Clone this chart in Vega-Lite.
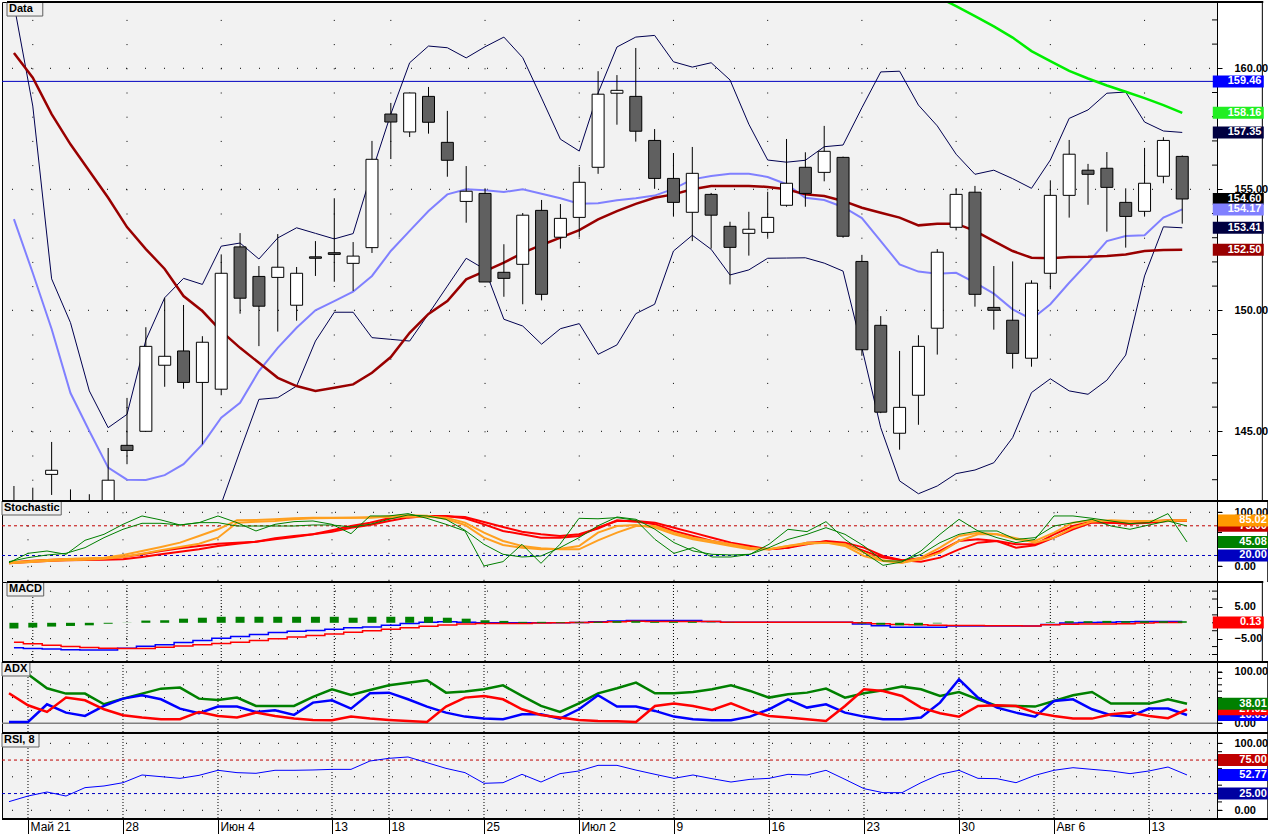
{
"$schema":"https://vega.github.io/schema/vega-lite/v6.json",
"padding":{"left":0,"top":0,"right":0,"bottom":0},
"background":"#ffffff",
"spacing":0,
"bounds":"flush",
"resolve":{"scale":{"color":"independent"}},
"config":{"font":"Liberation Sans","view":{"stroke":"#000","strokeWidth":1,"fill":"#f2f2f2"},
"axis":{"labelFont":"Liberation Sans","labelFontSize":11,"labelFontWeight":"bold","labelColor":"#000","tickColor":"#000","tickWidth":1,"domain":false,"grid":false,"labelOverlap":false,"labelFlush":false,"labelBound":false},
"legend":{"disable":true}},
"datasets":{
"dt":[{"i":0},{"i":5},{"i":10},{"i":16},{"i":19},{"i":24},{"i":29},{"i":34},{"i":39},{"i":44},{"i":49},{"i":54},{"i":59}],
"tk100":[{"v":0},{"v":12.5},{"v":25},{"v":37.5},{"v":50},{"v":62.5},{"v":75},{"v":87.5},{"v":100}],
"px":[
{"i":-1,"o":141.5,"h":142.74,"l":140.5,"c":141.0,"bu":162.65,"bm":153.77,"bl":136.0,"ma":160.63},
{"i":0,"o":141.6,"h":142.67,"l":140.8,"c":141.9,"bu":158.44,"bm":151.54,"bl":137.0,"ma":159.61},
{"i":1,"o":143.22,"h":144.56,"l":142.37,"c":143.39,"bu":151.3,"bm":149.23,"bl":137.5,"ma":158.11},
{"i":2,"o":141.7,"h":142.6,"l":140.9,"c":141.3,"bu":149.49,"bm":146.58,"bl":138.0,"ma":156.86},
{"i":3,"o":141.3,"h":142.4,"l":140.7,"c":141.9,"bu":146.67,"bm":145.01,"bl":138.5,"ma":155.76},
{"i":4,"o":141.6,"h":144.31,"l":141.2,"c":142.98,"bu":145.15,"bm":143.5,"bl":138.8,"ma":154.65},
{"i":5,"o":144.42,"h":146.38,"l":143.64,"c":144.21,"bu":145.7,"bm":143.0,"bl":139.0,"ma":153.44},
{"i":6,"o":145.0,"h":149.3,"l":145.0,"c":148.51,"bu":148.77,"bm":142.99,"bl":139.0,"ma":152.53},
{"i":7,"o":147.73,"h":150.52,"l":146.84,"c":148.1,"bu":150.52,"bm":143.19,"bl":139.5,"ma":151.71},
{"i":8,"o":148.32,"h":150.22,"l":146.76,"c":147.02,"bu":151.32,"bm":143.64,"bl":140.0,"ma":150.59},
{"i":9,"o":147.02,"h":148.93,"l":144.46,"c":148.68,"bu":151.07,"bm":144.46,"bl":140.5,"ma":149.97},
{"i":10,"o":146.74,"h":152.31,"l":146.49,"c":151.53,"bu":152.65,"bm":145.56,"bl":142.0,"ma":149.14},
{"i":11,"o":152.62,"h":153.19,"l":149.86,"c":150.5,"bu":152.78,"bm":146.18,"bl":144.19,"ma":148.45},
{"i":12,"o":151.4,"h":151.83,"l":148.52,"c":150.17,"bu":152.12,"bm":147.49,"bl":146.32,"ma":147.83},
{"i":13,"o":151.36,"h":153.15,"l":149.12,"c":151.78,"bu":152.99,"bm":148.45,"bl":146.39,"ma":147.21},
{"i":14,"o":150.21,"h":151.79,"l":149.57,"c":151.53,"bu":153.41,"bm":149.28,"bl":146.87,"ma":146.87},
{"i":15,"o":152.21,"h":152.86,"l":151.42,"c":152.15,"bu":153.18,"bm":150.0,"bl":148.73,"ma":146.67},
{"i":16,"o":152.38,"h":154.63,"l":151.18,"c":152.31,"bu":152.95,"bm":150.38,"bl":149.92,"ma":146.8},
{"i":17,"o":151.94,"h":152.82,"l":150.8,"c":152.24,"bu":153.17,"bm":150.77,"bl":149.92,"ma":146.94},
{"i":18,"o":152.59,"h":157.0,"l":152.37,"c":156.24,"bu":155.72,"bm":151.42,"bl":148.87,"ma":147.42},
{"i":19,"o":158.11,"h":158.57,"l":156.25,"c":157.78,"bu":158.11,"bm":152.45,"bl":148.8,"ma":148.07},
{"i":20,"o":157.37,"h":159.0,"l":157.16,"c":158.98,"bu":160.23,"bm":153.28,"bl":148.73,"ma":149.07},
{"i":21,"o":158.84,"h":159.23,"l":157.3,"c":157.77,"bu":160.92,"bm":154.1,"bl":149.85,"ma":149.85},
{"i":22,"o":156.94,"h":158.24,"l":155.52,"c":156.2,"bu":160.85,"bm":154.79,"bl":151.0,"ma":150.38},
{"i":23,"o":154.5,"h":155.96,"l":153.62,"c":154.92,"bu":160.43,"bm":155.0,"bl":152.15,"ma":151.28},
{"i":24,"o":154.83,"h":155.04,"l":151.17,"c":151.17,"bu":160.89,"bm":154.96,"bl":151.69,"ma":151.62},
{"i":25,"o":151.57,"h":152.73,"l":150.56,"c":151.32,"bu":161.29,"bm":154.89,"bl":149.63,"ma":151.97},
{"i":26,"o":151.9,"h":154.02,"l":150.25,"c":153.93,"bu":160.44,"bm":155.0,"bl":149.35,"ma":152.37},
{"i":27,"o":154.13,"h":154.56,"l":150.41,"c":150.66,"bu":158.77,"bm":154.82,"bl":148.6,"ma":152.7},
{"i":28,"o":153.02,"h":154.39,"l":152.55,"c":153.8,"bu":157.07,"bm":154.63,"bl":149.24,"ma":153.0},
{"i":29,"o":153.84,"h":155.92,"l":153.02,"c":155.29,"bu":156.58,"bm":154.4,"bl":149.45,"ma":153.31},
{"i":30,"o":155.91,"h":159.88,"l":155.64,"c":158.93,"bu":158.98,"bm":154.42,"bl":148.18,"ma":153.76},
{"i":31,"o":158.97,"h":159.72,"l":157.67,"c":159.09,"bu":160.88,"bm":154.55,"bl":148.57,"ma":154.1},
{"i":32,"o":158.84,"h":160.84,"l":156.97,"c":157.4,"bu":161.29,"bm":154.63,"bl":149.86,"ma":154.4},
{"i":33,"o":157.02,"h":157.49,"l":155.02,"c":155.45,"bu":161.36,"bm":154.74,"bl":150.25,"ma":154.65},
{"i":34,"o":155.45,"h":156.5,"l":153.87,"c":154.46,"bu":160.27,"bm":155.02,"bl":152.45,"ma":154.79},
{"i":35,"o":154.05,"h":156.75,"l":152.86,"c":155.66,"bu":160.05,"bm":155.41,"bl":153.1,"ma":155.0},
{"i":36,"o":154.79,"h":154.85,"l":152.55,"c":153.93,"bu":160.23,"bm":155.55,"bl":152.52,"ma":155.14},
{"i":37,"o":153.47,"h":153.66,"l":151.07,"c":152.6,"bu":159.52,"bm":155.64,"bl":151.46,"ma":155.14},
{"i":38,"o":153.18,"h":154.07,"l":152.26,"c":153.35,"bu":157.69,"bm":155.64,"bl":151.67,"ma":155.14},
{"i":39,"o":153.22,"h":154.9,"l":153.0,"c":153.84,"bu":156.21,"bm":155.51,"bl":152.15,"ma":155.1},
{"i":40,"o":154.34,"h":157.08,"l":154.28,"c":155.25,"bu":156.12,"bm":155.21,"bl":152.16,"ma":155.0},
{"i":41,"o":155.91,"h":156.53,"l":154.28,"c":154.83,"bu":156.2,"bm":154.65,"bl":152.17,"ma":154.79},
{"i":42,"o":155.7,"h":157.62,"l":155.33,"c":156.57,"bu":156.76,"bm":154.56,"bl":151.95,"ma":154.72},
{"i":43,"o":156.32,"h":156.35,"l":153.0,"c":153.06,"bu":156.83,"bm":154.27,"bl":151.62,"ma":154.52},
{"i":44,"o":152.02,"h":152.29,"l":148.12,"c":148.37,"bu":158.37,"bm":153.81,"bl":148.45,"ma":154.24},
{"i":45,"o":149.38,"h":149.76,"l":145.75,"c":145.79,"bu":159.85,"bm":152.86,"bl":145.15,"ma":154.03},
{"i":46,"o":144.92,"h":148.32,"l":144.24,"c":145.99,"bu":159.88,"bm":151.9,"bl":142.95,"ma":153.83},
{"i":47,"o":146.49,"h":148.97,"l":145.27,"c":148.51,"bu":158.48,"bm":151.6,"bl":142.42,"ma":153.51},
{"i":48,"o":149.26,"h":152.53,"l":148.17,"c":152.4,"bu":157.62,"bm":151.51,"bl":142.74,"ma":153.58},
{"i":49,"o":153.43,"h":155.05,"l":153.3,"c":154.79,"bu":156.45,"bm":151.55,"bl":143.25,"ma":153.58},
{"i":50,"o":154.88,"h":155.14,"l":150.15,"c":150.66,"bu":155.62,"bm":151.14,"bl":143.4,"ma":153.28},
{"i":51,"o":150.12,"h":151.83,"l":149.2,"c":150.0,"bu":155.79,"bm":150.69,"bl":143.7,"ma":152.86},
{"i":52,"o":149.59,"h":152.02,"l":147.59,"c":148.22,"bu":155.44,"bm":150.04,"bl":144.74,"ma":152.45},
{"i":53,"o":148.02,"h":151.24,"l":147.67,"c":151.12,"bu":155.04,"bm":149.63,"bl":146.6,"ma":152.17},
{"i":54,"o":151.53,"h":155.37,"l":150.87,"c":154.75,"bu":156.21,"bm":150.25,"bl":147.17,"ma":152.15},
{"i":55,"o":154.75,"h":157.04,"l":153.83,"c":156.45,"bu":157.93,"bm":151.14,"bl":146.67,"ma":152.2},
{"i":56,"o":155.79,"h":156.05,"l":154.36,"c":155.62,"bu":158.28,"bm":151.97,"bl":146.53,"ma":152.21},
{"i":57,"o":155.87,"h":156.54,"l":153.25,"c":155.08,"bu":158.97,"bm":152.86,"bl":147.11,"ma":152.24},
{"i":58,"o":154.46,"h":155.04,"l":152.59,"c":153.88,"bu":159.02,"bm":153.07,"bl":148.15,"ma":152.31},
{"i":59,"o":154.09,"h":156.71,"l":153.87,"c":155.25,"bu":157.78,"bm":153.1,"bl":151.42,"ma":152.45},
{"i":60,"o":155.54,"h":157.15,"l":155.25,"c":157.02,"bu":157.41,"bm":153.83,"bl":153.45,"ma":152.49},
{"i":61,"o":156.36,"h":156.4,"l":153.58,"c":154.6,"bu":157.35,"bm":154.17,"bl":153.41,"ma":152.5}
],
"ma2":[{"i":48,"v":162.96},{"i":49,"v":162.57},{"i":50,"v":162.16},{"i":51,"v":161.73},{"i":52,"v":161.27},{"i":53,"v":160.71},{"i":54,"v":160.3},{"i":55,"v":159.89},{"i":56,"v":159.58},{"i":57,"v":159.29},{"i":58,"v":159.03},{"i":59,"v":158.77},{"i":60,"v":158.48},{"i":61,"v":158.16}],
"st":[
{"i":-1,"ga":6.7,"gb":8.6,"ra":6.7,"rb":5.5,"oa":7.4,"ob":5.5},
{"i":0,"ga":24.0,"gb":16.0,"ra":9.8,"rb":8.0,"oa":9.2,"ob":7.4},
{"i":1,"ga":28.3,"gb":20.9,"ra":11.7,"rb":9.8,"oa":11.7,"ob":9.8},
{"i":2,"ga":22.2,"gb":24.0,"ra":12.9,"rb":11.0,"oa":13.5,"ob":11.0},
{"i":3,"ga":48.1,"gb":34.5,"ra":13.5,"rb":11.7,"oa":14.7,"ob":12.3},
{"i":4,"ga":59.2,"gb":53.0,"ra":14.1,"rb":12.3,"oa":16.0,"ob":14.1},
{"i":5,"ga":77.7,"gb":68.5,"ra":17.2,"rb":12.9,"oa":20.9,"ob":17.2},
{"i":6,"ga":93.2,"gb":79.6,"ra":22.2,"rb":17.2,"oa":28.3,"ob":23.4},
{"i":7,"ga":85.8,"gb":79.6,"ra":28.3,"rb":22.2,"oa":35.8,"ob":29.6},
{"i":8,"ga":76.5,"gb":76.5,"ra":33.3,"rb":27.1,"oa":43.8,"ob":35.8},
{"i":9,"ga":80.8,"gb":80.8,"ra":37.6,"rb":31.4,"oa":56.1,"ob":41.9},
{"i":10,"ga":93.2,"gb":80.8,"ra":41.9,"rb":37.6,"oa":68.5,"ob":53.0},
{"i":11,"ga":80.8,"gb":74.6,"ra":43.8,"rb":41.9,"oa":85.1,"ob":80.8},
{"i":12,"ga":65.4,"gb":74.6,"ra":45.6,"rb":45.6,"oa":85.8,"ob":82.7},
{"i":13,"ga":77.7,"gb":74.6,"ra":51.8,"rb":49.9,"oa":87.0,"ob":83.9},
{"i":14,"ga":82.7,"gb":74.6,"ra":56.1,"rb":54.3,"oa":88.8,"ob":87.0},
{"i":15,"ga":83.9,"gb":76.5,"ra":59.2,"rb":59.2,"oa":90.1,"ob":88.8},
{"i":16,"ga":77.7,"gb":76.5,"ra":66.6,"rb":64.1,"oa":90.1,"ob":89.5},
{"i":17,"ga":60.4,"gb":72.8,"ra":74.6,"rb":71.5,"oa":90.1,"ob":90.1},
{"i":18,"ga":93.2,"gb":77.7,"ra":80.8,"rb":76.5,"oa":90.1,"ob":90.7},
{"i":19,"ga":93.2,"gb":87.0,"ra":88.8,"rb":83.9,"oa":92.5,"ob":91.3},
{"i":20,"ga":97.5,"gb":95.0,"ra":93.2,"rb":90.1,"oa":94.4,"ob":91.9},
{"i":21,"ga":88.8,"gb":93.2,"ra":93.2,"rb":93.2,"oa":93.8,"ob":91.9},
{"i":22,"ga":77.7,"gb":87.0,"ra":92.5,"rb":93.2,"oa":87.6,"ob":90.1},
{"i":23,"ga":65.4,"gb":66.6,"ra":91.3,"rb":88.8,"oa":76.5,"ob":80.8},
{"i":24,"ga":0.6,"gb":40.7,"ra":82.0,"rb":77.7,"oa":53.0,"ob":62.3},
{"i":25,"ga":8.6,"gb":22.2,"ra":72.8,"rb":65.4,"oa":39.5,"ob":46.9},
{"i":26,"ga":40.7,"gb":17.2,"ra":64.1,"rb":59.2,"oa":34.5,"ob":37.6},
{"i":27,"ga":5.5,"gb":19.1,"ra":59.2,"rb":53.0,"oa":31.4,"ob":33.3},
{"i":28,"ga":40.7,"gb":34.5,"ra":56.1,"rb":53.0,"oa":32.7,"ob":31.4},
{"i":29,"ga":88.8,"gb":53.0,"ra":59.2,"rb":56.1,"oa":37.6,"ob":31.4},
{"i":30,"ga":88.0,"gb":75.0,"ra":70.0,"rb":72.0,"oa":62.3,"ob":48.1},
{"i":31,"ga":90.1,"gb":91.3,"ra":85.1,"rb":83.9,"oa":74.6,"ob":62.3},
{"i":32,"ga":85.1,"gb":87.0,"ra":82.7,"rb":83.9,"oa":76.5,"ob":74.6},
{"i":33,"ga":49.8,"gb":68.5,"ra":77.7,"rb":80.8,"oa":71.5,"ob":74.6},
{"i":34,"ga":24.0,"gb":43.8,"ra":65.4,"rb":71.5,"oa":59.2,"ob":62.3},
{"i":35,"ga":34.5,"gb":28.4,"ra":56.1,"rb":62.3,"oa":49.9,"ob":53.0},
{"i":36,"ga":17.2,"gb":22.2,"ra":46.9,"rb":53.0,"oa":43.8,"ob":46.9},
{"i":37,"ga":17.2,"gb":21.0,"ra":40.7,"rb":43.8,"oa":37.6,"ob":40.7},
{"i":38,"ga":22.2,"gb":22.2,"ra":34.5,"rb":37.6,"oa":31.4,"ob":34.5},
{"i":39,"ga":40.7,"gb":34.5,"ra":31.4,"rb":31.4,"oa":31.4,"ob":31.4},
{"i":40,"ga":68.5,"gb":49.8,"ra":34.5,"rb":34.5,"oa":37.6,"ob":37.6},
{"i":41,"ga":64.2,"gb":59.2,"ra":40.7,"rb":43.8,"oa":43.8,"ob":41.9},
{"i":42,"ga":82.7,"gb":71.5,"ra":46.9,"rb":45.6,"oa":43.8,"ob":43.8},
{"i":43,"ga":49.8,"gb":59.2,"ra":43.8,"rb":40.7,"oa":37.6,"ob":40.7},
{"i":44,"ga":25.3,"gb":37.6,"ra":34.5,"rb":28.3,"oa":19.1,"ob":25.2},
{"i":45,"ga":1.8,"gb":9.8,"ra":19.1,"rb":16.0,"oa":9.8,"ob":11.0},
{"i":46,"ga":8.0,"gb":9.8,"ra":11.0,"rb":11.0,"oa":6.7,"ob":6.7},
{"i":47,"ga":28.4,"gb":22.2,"ra":14.7,"rb":8.6,"oa":16.0,"ob":12.9},
{"i":48,"ga":59.2,"gb":43.8,"ra":28.3,"rb":16.0,"oa":34.5,"ob":25.2},
{"i":49,"ga":87.0,"gb":59.2,"ra":46.9,"rb":31.4,"oa":56.1,"ob":46.9},
{"i":50,"ga":65.4,"gb":65.4,"ra":49.9,"rb":43.8,"oa":62.3,"ob":59.2},
{"i":51,"ga":53.0,"gb":65.4,"ra":46.9,"rb":46.9,"oa":59.2,"ob":59.2},
{"i":52,"ga":43.8,"gb":49.8,"ra":34.5,"rb":40.7,"oa":49.9,"ob":51.8},
{"i":53,"ga":49.8,"gb":53.0,"ra":38.8,"rb":40.7,"oa":46.9,"ob":43.8},
{"i":54,"ga":93.2,"gb":74.6,"ra":53.0,"rb":59.2,"oa":62.3,"ob":53.0},
{"i":55,"ga":93.2,"gb":80.8,"ra":68.5,"rb":74.6,"oa":80.8,"ob":71.5},
{"i":56,"ga":88.9,"gb":87.0,"ra":80.8,"rb":82.7,"oa":85.1,"ob":82.7},
{"i":57,"ga":83.9,"gb":74.6,"ra":80.8,"rb":80.8,"oa":83.9,"ob":85.1},
{"i":58,"ga":79.0,"gb":68.5,"ra":79.0,"rb":79.0,"oa":82.7,"ob":83.9},
{"i":59,"ga":80.8,"gb":76.5,"ra":80.8,"rb":82.7,"oa":83.9,"ob":83.9},
{"i":60,"ga":97.5,"gb":83.9,"ra":83.9,"rb":85.1,"oa":83.9,"ob":85.1},
{"i":61,"ga":45.1,"gb":74.6,"ra":83.9,"rb":85.1,"oa":85.0,"ob":85.1}
],
"md":[
{"i":-1,"m":-7.9,"s":-6.1,"h":-1.8},{"i":0,"m":-8.1,"s":-6.6,"h":-1.5},{"i":1,"m":-8.3,"s":-7.1,"h":-1.2},{"i":2,"m":-8.5,"s":-7.5,"h":-1.0},
{"i":3,"m":-8.6,"s":-7.8,"h":-0.8},{"i":4,"m":-8.6,"s":-8.0,"h":-0.3},{"i":5,"m":-8.0,"s":-8.1,"h":0.05},{"i":6,"m":-7.4,"s":-8.1,"h":0.7},
{"i":7,"m":-6.9,"s":-7.7,"h":0.8},{"i":8,"m":-6.2,"s":-7.3,"h":1.3},{"i":9,"m":-5.6,"s":-6.9,"h":1.6},{"i":10,"m":-4.9,"s":-6.5,"h":1.9},
{"i":11,"m":-4.3,"s":-6.1,"h":1.9},{"i":12,"m":-3.7,"s":-5.6,"h":1.9},{"i":13,"m":-3.1,"s":-5.0,"h":1.9},{"i":14,"m":-2.7,"s":-4.5,"h":1.9},
{"i":15,"m":-2.4,"s":-4.0,"h":1.9},{"i":16,"m":-2.0,"s":-3.5,"h":1.9},{"i":17,"m":-1.6,"s":-3.0,"h":1.6},{"i":18,"m":-1.3,"s":-2.5,"h":1.9},
{"i":19,"m":-0.8,"s":-2.0,"h":1.9},{"i":20,"m":-0.2,"s":-1.6,"h":1.9},{"i":21,"m":0.2,"s":-1.1,"h":1.9},{"i":22,"m":0.3,"s":-0.7,"h":1.6},
{"i":23,"m":0.2,"s":-0.4,"h":1.3},{"i":24,"m":0.0,"s":-0.2,"h":0.8},{"i":25,"m":0.0,"s":-0.2,"h":0.6},{"i":26,"m":0.0,"s":-0.2,"h":0.3},
{"i":27,"m":0.0,"s":-0.1,"h":0.3},{"i":28,"m":0.0,"s":0.0,"h":0.2},{"i":29,"m":0.1,"s":0.1,"h":0.2},{"i":30,"m":0.3,"s":0.2,"h":0.3},
{"i":31,"m":0.6,"s":0.3,"h":0.5},{"i":32,"m":0.74,"s":0.5,"h":0.5},{"i":33,"m":0.74,"s":0.4,"h":0.3},{"i":34,"m":0.74,"s":0.4,"h":0.3},
{"i":35,"m":0.74,"s":0.4,"h":0.3},{"i":36,"m":0.4,"s":0.4,"h":0.1},{"i":37,"m":0.2,"s":0.2,"h":0.05},{"i":38,"m":0.2,"s":0.2,"h":0.0},
{"i":39,"m":0.2,"s":0.2,"h":0.0},{"i":40,"m":0.2,"s":0.2,"h":0.0},{"i":41,"m":0.2,"s":0.2,"h":0.0},{"i":42,"m":0.2,"s":0.2,"h":0.0},
{"i":43,"m":0.2,"s":0.2,"h":0.0},{"i":44,"m":-0.42,"s":0.0,"h":-0.2},{"i":45,"m":-0.95,"s":-0.3,"h":-0.6},{"i":46,"m":-1.37,"s":-0.5,"h":-0.8},
{"i":47,"m":-1.37,"s":-0.6,"h":-0.8},{"i":48,"m":-1.37,"s":-0.75,"h":-0.2},{"i":49,"m":-1.05,"s":-0.85,"h":0.0},{"i":50,"m":-1.05,"s":-0.85,"h":0.0},
{"i":51,"m":-1.05,"s":-0.9,"h":0.0},{"i":52,"m":-1.05,"s":-0.95,"h":0.0},{"i":53,"m":-1.05,"s":-1.05,"h":0.0},{"i":54,"m":-0.53,"s":-0.6,"h":0.2},
{"i":55,"m":-0.1,"s":-0.45,"h":0.5},{"i":56,"m":0.1,"s":-0.4,"h":0.5},{"i":57,"m":0.2,"s":-0.4,"h":0.6},{"i":58,"m":0.3,"s":-0.3,"h":0.5},
{"i":59,"m":0.42,"s":-0.1,"h":0.5},{"i":60,"m":0.42,"s":0.1,"h":0.5},{"i":61,"m":0.42,"s":0.13,"h":0.5}
],
"ad":[
{"i":-1,"a":95.5,"p":2.5,"n":58.4},{"i":0,"a":95.5,"p":2.5,"n":35.0},{"i":1,"a":68.2,"p":37.0,"n":22.0},{"i":2,"a":57.8,"p":20.7,"n":50.0},
{"i":3,"a":57.8,"p":14.2,"n":44.8},{"i":4,"a":37.0,"p":33.7,"n":27.2},{"i":5,"a":48.0,"p":48.0,"n":15.5},{"i":6,"a":57.8,"p":54.5,"n":11.0},
{"i":7,"a":67.5,"p":46.7,"n":7.7},{"i":8,"a":69.5,"p":28.5,"n":7.7},{"i":9,"a":48.0,"p":19.4,"n":22.0},{"i":10,"a":45.4,"p":32.4,"n":14.2},
{"i":11,"a":50.0,"p":32.4,"n":11.0},{"i":12,"a":33.7,"p":22.0,"n":20.7},{"i":13,"a":33.7,"p":25.3,"n":14.2},{"i":14,"a":33.7,"p":16.2,"n":9.0},
{"i":15,"a":51.3,"p":40.2,"n":6.4},{"i":16,"a":66.2,"p":44.8,"n":5.8},{"i":17,"a":55.2,"p":28.5,"n":12.9},{"i":18,"a":64.9,"p":58.4,"n":9.0},
{"i":19,"a":74.0,"p":59.7,"n":6.4},{"i":20,"a":79.2,"p":46.7,"n":4.5},{"i":21,"a":83.8,"p":32.4,"n":2.5},{"i":22,"a":59.7,"p":20.7,"n":32.4},
{"i":23,"a":61.7,"p":12.9,"n":50.0},{"i":24,"a":66.2,"p":9.0,"n":53.2},{"i":25,"a":74.0,"p":7.7,"n":46.7},{"i":26,"a":53.2,"p":17.5,"n":27.2},
{"i":27,"a":33.7,"p":17.5,"n":16.2},{"i":28,"a":22.0,"p":9.0,"n":11.0},{"i":29,"a":38.9,"p":27.2,"n":6.4},{"i":30,"a":58.4,"p":54.5,"n":4.5},
{"i":31,"a":68.2,"p":32.4,"n":3.8},{"i":32,"a":79.2,"p":32.4,"n":2.5},{"i":33,"a":58.4,"p":24.0,"n":33.7},{"i":34,"a":58.4,"p":12.9,"n":38.3},
{"i":35,"a":61.0,"p":7.7,"n":33.7},{"i":36,"a":66.2,"p":5.8,"n":25.9},{"i":37,"a":74.0,"p":5.8,"n":38.9},{"i":38,"a":63.0,"p":12.9,"n":24.0},
{"i":39,"a":50.0,"p":27.2,"n":14.2},{"i":40,"a":56.5,"p":46.7,"n":11.0},{"i":41,"a":59.7,"p":30.5,"n":7.7},{"i":42,"a":67.5,"p":37.0,"n":4.5},
{"i":43,"a":50.0,"p":20.7,"n":33.7},{"i":44,"a":58.4,"p":12.9,"n":66.2},{"i":45,"a":64.3,"p":7.7,"n":63.0},{"i":46,"a":71.4,"p":7.7,"n":53.2},
{"i":47,"a":66.2,"p":11.0,"n":30.5},{"i":48,"a":53.2,"p":40.2,"n":19.4},{"i":49,"a":61.0,"p":85.7,"n":12.9},{"i":50,"a":46.7,"p":50.0,"n":33.7},
{"i":51,"a":33.7,"p":30.5,"n":35.0},{"i":52,"a":33.7,"p":20.7,"n":33.7},{"i":53,"a":32.4,"p":12.9,"n":20.7},{"i":54,"a":43.5,"p":43.5,"n":14.2},
{"i":55,"a":54.5,"p":46.7,"n":9.0},{"i":56,"a":61.0,"p":27.2,"n":9.0},{"i":57,"a":38.3,"p":15.5,"n":17.5},{"i":58,"a":38.3,"p":12.9,"n":20.7},
{"i":59,"a":38.3,"p":28.5,"n":14.2},{"i":60,"a":46.7,"p":28.5,"n":9.7},{"i":61,"a":38.0,"p":16.0,"n":27.0}
],
"rs":[
{"i":-1,"r":12.9},{"i":0,"r":21.3},{"i":1,"r":27.3},{"i":2,"r":21.3},{"i":3,"r":33.8},{"i":4,"r":36.3},{"i":5,"r":41.2},{"i":6,"r":52.7},
{"i":7,"r":50.2},{"i":8,"r":47.7},{"i":9,"r":52.2},{"i":10,"r":59.7},{"i":11,"r":56.2},{"i":12,"r":55.2},{"i":13,"r":59.7},{"i":14,"r":59.7},
{"i":15,"r":60.2},{"i":16,"r":61.1},{"i":17,"r":61.1},{"i":18,"r":73.6},{"i":19,"r":77.6},{"i":20,"r":79.6},{"i":21,"r":71.1},{"i":22,"r":62.6},
{"i":23,"r":56.2},{"i":24,"r":40.3},{"i":25,"r":41.2},{"i":26,"r":53.7},{"i":27,"r":42.2},{"i":28,"r":54.7},{"i":29,"r":58.7},{"i":30,"r":67.1},
{"i":31,"r":67.1},{"i":32,"r":60.0},{"i":33,"r":53.7},{"i":34,"r":47.7},{"i":35,"r":52.7},{"i":36,"r":47.2},{"i":37,"r":42.2},{"i":38,"r":46.2},
{"i":39,"r":47.7},{"i":40,"r":53.7},{"i":41,"r":52.7},{"i":42,"r":59.7},{"i":43,"r":46.2},{"i":44,"r":32.3},{"i":45,"r":26.3},{"i":46,"r":26.3},
{"i":47,"r":41.2},{"i":48,"r":53.7},{"i":49,"r":59.7},{"i":50,"r":47.7},{"i":51,"r":47.2},{"i":52,"r":41.2},{"i":53,"r":52.2},{"i":54,"r":59.7},
{"i":55,"r":63.6},{"i":56,"r":61.1},{"i":57,"r":58.7},{"i":58,"r":54.7},{"i":59,"r":58.7},{"i":60,"r":64.6},{"i":61,"r":52.77}
]
},
"vconcat":[
{"width":1215,"height":499,
"layer":[
{"data":{"values":[{"v":145},{"v":150},{"v":155},{"v":160}]},"mark":{"type":"rule","color":"#000","strokeDash":[1,18],"strokeDashOffset":12},
 "encoding":{"y":{"field":"v","type":"quantitative","scale":{"domain":[142.12,162.74],"nice":false,"zero":false},
  "axis":{"orient":"right","title":null,"values":[145,150,155,160],"format":".2f","tickSize":5,"labelPadding":12,"labelOverlap":false}}}},
{"data":{"name":"dt"},"mark":{"type":"rule","color":"#000","strokeDash":[1,23.2],"strokeDashOffset":6.3},
 "encoding":{"x":{"field":"i","type":"quantitative","scale":{"domain":[-1.3684,62.579],"nice":false,"zero":false},"axis":null}}},
{"data":{"values":[{"v":143},{"v":144},{"v":146},{"v":147},{"v":148},{"v":149},{"v":151},{"v":152},{"v":153},{"v":154},{"v":156},{"v":157},{"v":158},{"v":159},{"v":161},{"v":162}]},
 "mark":{"type":"tick","orient":"horizontal","size":5,"thickness":1,"color":"#000","opacity":1,"clip":false},
 "encoding":{"x":{"datum":62.711,"axis":null},"y":{"field":"v","type":"quantitative"}}},
{"data":{"values":[{}]},"mark":{"type":"rule","color":"#0000c0","strokeWidth":1},"encoding":{"y":{"datum":159.46}}},
{"data":{"name":"px"},"mark":{"type":"line","color":"#000050","strokeWidth":1,"clip":true},"encoding":{"x":{"field":"i","type":"quantitative","axis":null},"y":{"field":"bu","type":"quantitative"}}},
{"data":{"name":"px"},"mark":{"type":"line","color":"#000050","strokeWidth":1,"clip":true},"encoding":{"x":{"field":"i","type":"quantitative","axis":null},"y":{"field":"bl","type":"quantitative"}}},
{"data":{"name":"px"},"mark":{"type":"line","color":"#8080ff","strokeWidth":2,"clip":true},"encoding":{"x":{"field":"i","type":"quantitative","axis":null},"y":{"field":"bm","type":"quantitative"}}},
{"data":{"name":"px"},"mark":{"type":"line","color":"#990000","strokeWidth":2.5,"clip":true},"encoding":{"x":{"field":"i","type":"quantitative","axis":null},"y":{"field":"ma","type":"quantitative"}}},
{"data":{"name":"ma2"},"mark":{"type":"line","color":"#00ee00","strokeWidth":2.5,"clip":true},"encoding":{"x":{"field":"i","type":"quantitative","axis":null},"y":{"field":"v","type":"quantitative"}}},
{"data":{"name":"px"},"mark":{"type":"rule","color":"#000","strokeWidth":1,"clip":true},"encoding":{"x":{"field":"i","type":"quantitative","axis":null},"y":{"field":"l","type":"quantitative"},"y2":{"field":"h"}}},
{"data":{"name":"px"},"mark":{"type":"bar","size":12,"stroke":"#000","strokeWidth":1,"clip":true},"encoding":{"x":{"field":"i","type":"quantitative","axis":null},"y":{"field":"o","type":"quantitative"},"y2":{"field":"c"},
 "fill":{"condition":{"test":"datum.c >= datum.o","value":"#ffffff"},"value":"#606060"}}},
{"data":{"values":[{}]},"mark":{"type":"rect","fill":"#f0f0f0","stroke":"#606060","strokeWidth":1},"encoding":{"x":{"datum":-1.3684},"x2":{"datum":0.53},"y":{"datum":162.74},"y2":{"datum":162.16}}},
{"data":{"values":[{}]},"mark":{"type":"text","text":"Data","align":"left","baseline":"top","dx":2,"dy":1,"font":"Liberation Sans","fontWeight":"bold","fontSize":11,"color":"#000"},"encoding":{"x":{"datum":-1.3684},"y":{"datum":162.74}}},
{"data":{"values":[{}]},"mark":{"type":"rule","color":"#000","strokeWidth":2,"clip":false},"encoding":{"x":{"datum":-1.3684},"x2":{"datum":65.3},"y":{"datum":162.74}}},
{"data":{"values":[{}]},"mark":{"type":"rule","color":"#000","strokeWidth":1,"clip":false},"encoding":{"x":{"datum":65.25}}},
{"data":{"values":[{"v":159.46,"t":"159.46","k":"hl"},{"v":158.16,"t":"158.16","k":"ma2"},{"v":157.35,"t":"157.35","k":"bu"},{"v":154.6,"t":"154.60","k":"cl"},{"v":154.17,"t":"154.17","k":"bm"},{"v":153.41,"t":"153.41","k":"bl"},{"v":152.5,"t":"152.50","k":"ma"}]},
 "mark":{"type":"tick","orient":"horizontal","size":51,"thickness":12,"opacity":1,"clip":false},
 "encoding":{"x":{"datum":63.974},"y":{"field":"v","type":"quantitative"},"color":{"field":"k","type":"nominal","scale":{"domain":["hl","ma2","bu","cl","bm","bl","ma"],"range":["#0000ff","#22ee22","#000040","#000000","#8080ff","#000040","#990000"]},"legend":null}}},
{"data":{"values":[{"v":159.46,"t":"159.46"},{"v":158.16,"t":"158.16"},{"v":157.35,"t":"157.35"},{"v":154.6,"t":"154.60"},{"v":154.17,"t":"154.17"},{"v":153.41,"t":"153.41"},{"v":152.5,"t":"152.50"}]},
 "mark":{"type":"text","align":"right","baseline":"middle","font":"Liberation Sans","fontWeight":"bold","fontSize":11,"color":"#ffffff","clip":false},
 "encoding":{"x":{"datum":65.2},"y":{"field":"v","type":"quantitative"},"text":{"field":"t"}}}
]},
{"width":1215,"height":81,
"layer":[
{"data":{"values":[{"v":0},{"v":100}]},"mark":{"type":"rule","color":"#000","strokeDash":[1,18],"strokeDashOffset":12},
 "encoding":{"y":{"field":"v","type":"quantitative","scale":{"domain":[-29.1,120.9],"nice":false,"zero":false},
  "axis":{"orient":"right","title":null,"values":[0,100],"format":".2f","tickSize":5,"labelPadding":12,"labelOverlap":false}}}},
{"data":{"name":"dt"},"mark":{"type":"rule","color":"#000","strokeDash":[1,12.5],"strokeDashOffset":2.2},
 "encoding":{"x":{"field":"i","type":"quantitative","scale":{"domain":[-1.3684,62.579],"nice":false,"zero":false},"axis":null}}},
{"data":{"name":"tk100"},"mark":{"type":"tick","orient":"horizontal","size":5,"thickness":1,"color":"#000","opacity":1,"clip":false},
 "encoding":{"x":{"datum":62.711,"axis":null},"y":{"field":"v","type":"quantitative"}}},
{"data":{"values":[{}]},"mark":{"type":"rule","color":"#c00000","strokeDash":[3,3]},"encoding":{"y":{"datum":75}}},
{"data":{"values":[{}]},"mark":{"type":"rule","color":"#0000c0","strokeDash":[3,3]},"encoding":{"y":{"datum":20}}},
{"data":{"name":"st"},"mark":{"type":"line","color":"#ff0000","strokeWidth":2,"clip":true},"encoding":{"x":{"field":"i","type":"quantitative","axis":null},"y":{"field":"ra","type":"quantitative"}}},
{"data":{"name":"st"},"mark":{"type":"line","color":"#ff0000","strokeWidth":2,"clip":true},"encoding":{"x":{"field":"i","type":"quantitative","axis":null},"y":{"field":"rb","type":"quantitative"}}},
{"data":{"name":"st"},"mark":{"type":"line","color":"#ffa020","strokeWidth":2,"clip":true},"encoding":{"x":{"field":"i","type":"quantitative","axis":null},"y":{"field":"oa","type":"quantitative"}}},
{"data":{"name":"st"},"mark":{"type":"line","color":"#ffa020","strokeWidth":2,"clip":true},"encoding":{"x":{"field":"i","type":"quantitative","axis":null},"y":{"field":"ob","type":"quantitative"}}},
{"data":{"name":"st"},"mark":{"type":"line","color":"#008000","strokeWidth":1,"clip":true},"encoding":{"x":{"field":"i","type":"quantitative","axis":null},"y":{"field":"ga","type":"quantitative"}}},
{"data":{"name":"st"},"mark":{"type":"line","color":"#008000","strokeWidth":1,"clip":true},"encoding":{"x":{"field":"i","type":"quantitative","axis":null},"y":{"field":"gb","type":"quantitative"}}},
{"data":{"values":[{}]},"mark":{"type":"rect","fill":"#f0f0f0","stroke":"#606060","strokeWidth":1},"encoding":{"x":{"datum":-1.3684},"x2":{"datum":1.75},"y":{"datum":120.9},"y2":{"datum":95.0}}},
{"data":{"values":[{}]},"mark":{"type":"text","text":"Stochastic","align":"left","baseline":"top","dx":2,"dy":1,"font":"Liberation Sans","fontWeight":"bold","fontSize":11,"color":"#000"},"encoding":{"x":{"datum":-1.3684},"y":{"datum":120.9}}},
{"data":{"values":[{}]},"mark":{"type":"rule","color":"#000","strokeWidth":2,"clip":false},"encoding":{"x":{"datum":-1.3684},"x2":{"datum":65.3},"y":{"datum":120.9}}},
{"data":{"values":[{}]},"mark":{"type":"rule","color":"#000","strokeWidth":1,"clip":false},"encoding":{"x":{"datum":65.25}}},
{"data":{"values":[{"v":75}]},"mark":{"type":"tick","orient":"horizontal","size":51,"thickness":12,"opacity":1,"color":"#c00000","clip":false},"encoding":{"x":{"datum":63.974},"y":{"field":"v","type":"quantitative"}}},
{"data":{"values":[{"v":75,"t":"75.00"}]},"mark":{"type":"text","align":"right","baseline":"middle","font":"Liberation Sans","fontWeight":"bold","fontSize":11,"color":"#ffffff","clip":false},"encoding":{"x":{"datum":65.2},"y":{"field":"v","type":"quantitative"},"text":{"field":"t"}}},
{"data":{"values":[{"v":85.02,"k":"or"},{"v":45.08,"k":"gr"},{"v":20,"k":"lo"}]},"mark":{"type":"tick","orient":"horizontal","size":51,"thickness":12,"opacity":1,"clip":false},
 "encoding":{"x":{"datum":63.974},"y":{"field":"v","type":"quantitative"},"color":{"field":"k","type":"nominal","scale":{"domain":["or","gr","lo"],"range":["#ff9900","#008000","#0000c0"]},"legend":null}}},
{"data":{"values":[{"v":85.02,"t":"85.02"},{"v":45.08,"t":"45.08"},{"v":20,"t":"20.00"}]},"mark":{"type":"text","align":"right","baseline":"middle","font":"Liberation Sans","fontWeight":"bold","fontSize":11,"color":"#ffffff","clip":false},"encoding":{"x":{"datum":65.2},"y":{"field":"v","type":"quantitative"},"text":{"field":"t"}}}
]},
{"width":1215,"height":80,
"layer":[
{"data":{"values":[{"v":-10},{"v":-5},{"v":5},{"v":10}]},"mark":{"type":"rule","color":"#000","strokeDash":[1,18],"strokeDashOffset":12},
 "encoding":{"y":{"field":"v","type":"quantitative","scale":{"domain":[-12.37,12.87],"nice":false,"zero":false},
  "axis":{"orient":"right","title":null,"values":[-5,5],"format":".2f","tickSize":5,"labelPadding":12,"labelOverlap":false}}}},
{"data":{"name":"dt"},"mark":{"type":"rule","color":"#000","strokeDash":[1,2]},
 "encoding":{"x":{"field":"i","type":"quantitative","scale":{"domain":[-1.3684,62.579],"nice":false,"zero":false},"axis":null}}},
{"data":{"values":[{"v":-10},{"v":-7.5},{"v":-2.5},{"v":0},{"v":2.5},{"v":7.5},{"v":10}]},"mark":{"type":"tick","orient":"horizontal","size":5,"thickness":1,"color":"#000","opacity":1,"clip":false},
 "encoding":{"x":{"datum":62.711,"axis":null},"y":{"field":"v","type":"quantitative"}}},
{"data":{"name":"md"},"mark":{"type":"line","color":"#0000ff","strokeWidth":1.5,"interpolate":"step","clip":true},"encoding":{"x":{"field":"i","type":"quantitative","axis":null},"y":{"field":"m","type":"quantitative"}}},
{"data":{"name":"md"},"mark":{"type":"line","color":"#ff0000","strokeWidth":1.5,"interpolate":"step","clip":true},"encoding":{"x":{"field":"i","type":"quantitative","axis":null},"y":{"field":"s","type":"quantitative"}}},
{"data":{"name":"md"},"mark":{"type":"bar","size":9,"color":"#008000","clip":true},"encoding":{"x":{"field":"i","type":"quantitative","axis":null},"y":{"field":"h","type":"quantitative"},"y2":{"datum":0}}},
{"data":{"values":[{}]},"mark":{"type":"rect","fill":"#f0f0f0","stroke":"#606060","strokeWidth":1},"encoding":{"x":{"datum":-1.3684},"x2":{"datum":0.58},"y":{"datum":12.87},"y2":{"datum":8.45}}},
{"data":{"values":[{}]},"mark":{"type":"text","text":"MACD","align":"left","baseline":"top","dx":2,"dy":1,"font":"Liberation Sans","fontWeight":"bold","fontSize":11,"color":"#000"},"encoding":{"x":{"datum":-1.3684},"y":{"datum":12.87}}},
{"data":{"values":[{}]},"mark":{"type":"rule","color":"#000","strokeWidth":2,"clip":false},"encoding":{"x":{"datum":-1.3684},"x2":{"datum":65.3},"y":{"datum":12.87}}},
{"data":{"values":[{}]},"mark":{"type":"rule","color":"#000","strokeWidth":1,"clip":false},"encoding":{"x":{"datum":65.25}}},
{"data":{"values":[{"v":0.13}]},"mark":{"type":"tick","orient":"horizontal","size":51,"thickness":12,"opacity":1,"color":"#ff0000","clip":false},"encoding":{"x":{"datum":63.974},"y":{"field":"v","type":"quantitative"}}},
{"data":{"values":[{"v":0.13,"t":"0.13"}]},"mark":{"type":"text","align":"right","baseline":"middle","font":"Liberation Sans","fontWeight":"bold","fontSize":11,"color":"#ffffff","clip":false},"encoding":{"x":{"datum":65.2},"y":{"field":"v","type":"quantitative"},"text":{"field":"t"}}}
]},
{"width":1215,"height":71,
"layer":[
{"data":{"values":[{"v":25},{"v":50},{"v":75},{"v":100}]},"mark":{"type":"rule","color":"#000","strokeDash":[1,18],"strokeDashOffset":12},
 "encoding":{"y":{"field":"v","type":"quantitative","scale":{"domain":[-19.1,119.5],"nice":false,"zero":false},
  "axis":{"orient":"right","title":null,"values":[0,50,100],"format":".2f","tickSize":5,"labelPadding":12,"labelOverlap":false}}}},
{"data":{"name":"dt"},"mark":{"type":"rule","color":"#000","strokeDash":[1,2]},
 "encoding":{"x":{"field":"i","type":"quantitative","scale":{"domain":[-1.3684,62.579],"nice":false,"zero":false},"axis":null}}},
{"data":{"name":"tk100"},"mark":{"type":"tick","orient":"horizontal","size":5,"thickness":1,"color":"#000","opacity":1,"clip":false},
 "encoding":{"x":{"datum":62.711,"axis":null},"y":{"field":"v","type":"quantitative"}}},
{"data":{"values":[{}]},"mark":{"type":"rule","color":"#808080","strokeWidth":1.5},"encoding":{"y":{"datum":0}}},
{"data":{"name":"ad"},"mark":{"type":"line","color":"#008000","strokeWidth":2.5,"clip":true},"encoding":{"x":{"field":"i","type":"quantitative","axis":null},"y":{"field":"a","type":"quantitative"}}},
{"data":{"name":"ad"},"mark":{"type":"line","color":"#0000ff","strokeWidth":2.5,"clip":true},"encoding":{"x":{"field":"i","type":"quantitative","axis":null},"y":{"field":"p","type":"quantitative"}}},
{"data":{"name":"ad"},"mark":{"type":"line","color":"#ff0000","strokeWidth":2.5,"clip":true},"encoding":{"x":{"field":"i","type":"quantitative","axis":null},"y":{"field":"n","type":"quantitative"}}},
{"data":{"values":[{}]},"mark":{"type":"rect","fill":"#f0f0f0","stroke":"#606060","strokeWidth":1},"encoding":{"x":{"datum":-1.3684},"x2":{"datum":0.1},"y":{"datum":119.5},"y2":{"datum":92.2}}},
{"data":{"values":[{}]},"mark":{"type":"text","text":"ADX","align":"left","baseline":"top","dx":2,"dy":1,"font":"Liberation Sans","fontWeight":"bold","fontSize":11,"color":"#000"},"encoding":{"x":{"datum":-1.3684},"y":{"datum":119.5}}},
{"data":{"values":[{}]},"mark":{"type":"rule","color":"#000","strokeWidth":2,"clip":false},"encoding":{"x":{"datum":-1.3684},"x2":{"datum":65.3},"y":{"datum":119.5}}},
{"data":{"values":[{}]},"mark":{"type":"rule","color":"#000","strokeWidth":1,"clip":false},"encoding":{"x":{"datum":65.25}}},
{"data":{"values":[{"v":16.05}]},"mark":{"type":"tick","orient":"horizontal","size":51,"thickness":12,"opacity":1,"color":"#0000ff","clip":false},"encoding":{"x":{"datum":63.974},"y":{"field":"v","type":"quantitative"}}},
{"data":{"values":[{"v":16.05,"t":"16.05"}]},"mark":{"type":"text","align":"right","baseline":"middle","font":"Liberation Sans","fontWeight":"bold","fontSize":11,"color":"#ffffff","clip":false},"encoding":{"x":{"datum":65.2},"y":{"field":"v","type":"quantitative"},"text":{"field":"t"}}},
{"data":{"values":[{"v":27.02}]},"mark":{"type":"tick","orient":"horizontal","size":51,"thickness":12,"opacity":1,"color":"#ff0000","clip":false},"encoding":{"x":{"datum":63.974},"y":{"field":"v","type":"quantitative"}}},
{"data":{"values":[{"v":27.02,"t":"27.02"}]},"mark":{"type":"text","align":"right","baseline":"middle","font":"Liberation Sans","fontWeight":"bold","fontSize":11,"color":"#ffffff","clip":false},"encoding":{"x":{"datum":65.2},"y":{"field":"v","type":"quantitative"},"text":{"field":"t"}}},
{"data":{"values":[{"v":38.01}]},"mark":{"type":"tick","orient":"horizontal","size":51,"thickness":12,"opacity":1,"color":"#008000","clip":false},"encoding":{"x":{"datum":63.974},"y":{"field":"v","type":"quantitative"}}},
{"data":{"values":[{"v":38.01,"t":"38.01"}]},"mark":{"type":"text","align":"right","baseline":"middle","font":"Liberation Sans","fontWeight":"bold","fontSize":11,"color":"#ffffff","clip":false},"encoding":{"x":{"datum":65.2},"y":{"field":"v","type":"quantitative"},"text":{"field":"t"}}}
]},
{"width":1215,"height":86,
"layer":[
{"data":{"values":[{"v":0},{"v":50},{"v":100}]},"mark":{"type":"rule","color":"#000","strokeDash":[1,18],"strokeDashOffset":12},
 "encoding":{"y":{"field":"v","type":"quantitative","scale":{"domain":[-13.0,115.4],"nice":false,"zero":false},
  "axis":{"orient":"right","title":null,"values":[0,100],"format":".2f","tickSize":5,"labelPadding":12,"labelOverlap":false}}}},
{"data":{"name":"dt"},"mark":{"type":"rule","color":"#000","strokeDash":[1,2]},
 "encoding":{"x":{"field":"i","type":"quantitative","scale":{"domain":[-1.3684,62.579],"nice":false,"zero":false},
  "axis":{"orient":"bottom","title":null,"values":[0,5,10,16,19,24,29,34,39,44,49,54,59],
   "labelExpr":"datum.value == 0 ? 'Май 21' : datum.value == 5 ? '28' : datum.value == 10 ? 'Июн 4' : datum.value == 16 ? '13' : datum.value == 19 ? '18' : datum.value == 24 ? '25' : datum.value == 29 ? 'Июл 2' : datum.value == 34 ? '9' : datum.value == 39 ? '16' : datum.value == 44 ? '23' : datum.value == 49 ? '30' : datum.value == 54 ? 'Авг 6' : '13'",
   "tickSize":16,"labelPadding":-14,"labelAlign":"left","labelBaseline":"top","labelOffset":2,"labelFontWeight":"normal","labelFontSize":12,"labelOverlap":false}}}},
{"data":{"name":"tk100"},"mark":{"type":"tick","orient":"horizontal","size":5,"thickness":1,"color":"#000","opacity":1,"clip":false},
 "encoding":{"x":{"datum":62.711},"y":{"field":"v","type":"quantitative"}}},
{"data":{"values":[{}]},"mark":{"type":"rule","color":"#c00000","strokeDash":[3,3]},"encoding":{"y":{"datum":75}}},
{"data":{"values":[{}]},"mark":{"type":"rule","color":"#0000c0","strokeDash":[3,3]},"encoding":{"y":{"datum":25}}},
{"data":{"name":"rs"},"mark":{"type":"line","color":"#0000ff","strokeWidth":1,"clip":true},"encoding":{"x":{"field":"i","type":"quantitative"},"y":{"field":"r","type":"quantitative"}}},
{"data":{"values":[{}]},"mark":{"type":"rect","fill":"#f0f0f0","stroke":"#606060","strokeWidth":1},"encoding":{"x":{"datum":-1.3684},"x2":{"datum":0.58},"y":{"datum":115.4},"y2":{"datum":94.5}}},
{"data":{"values":[{}]},"mark":{"type":"text","text":"RSI, 8","align":"left","baseline":"top","dx":2,"dy":1,"font":"Liberation Sans","fontWeight":"bold","fontSize":11,"color":"#000"},"encoding":{"x":{"datum":-1.3684},"y":{"datum":115.4}}},
{"data":{"values":[{}]},"mark":{"type":"rule","color":"#000","strokeWidth":2,"clip":false},"encoding":{"x":{"datum":-1.3684},"x2":{"datum":65.3},"y":{"datum":115.4}}},
{"data":{"values":[{}]},"mark":{"type":"rule","color":"#000","strokeWidth":2,"clip":false},"encoding":{"x":{"datum":-1.3684},"x2":{"datum":65.3},"y":{"datum":-13.0}}},
{"data":{"values":[{}]},"mark":{"type":"rule","color":"#000","strokeWidth":1,"clip":false},"encoding":{"x":{"datum":65.25}}},
{"data":{"values":[{"v":75,"k":"a"},{"v":52.77,"k":"b"},{"v":25,"k":"c"}]},"mark":{"type":"tick","orient":"horizontal","size":51,"thickness":12,"opacity":1,"clip":false},
 "encoding":{"x":{"datum":63.974},"y":{"field":"v","type":"quantitative"},"color":{"field":"k","type":"nominal","scale":{"domain":["a","b","c"],"range":["#c00000","#0000ff","#0000a0"]},"legend":null}}},
{"data":{"values":[{"v":75,"t":"75.00"},{"v":52.77,"t":"52.77"},{"v":25,"t":"25.00"}]},"mark":{"type":"text","align":"right","baseline":"middle","font":"Liberation Sans","fontWeight":"bold","fontSize":11,"color":"#ffffff","clip":false},"encoding":{"x":{"datum":65.2},"y":{"field":"v","type":"quantitative"},"text":{"field":"t"}}}
]}
]
}
